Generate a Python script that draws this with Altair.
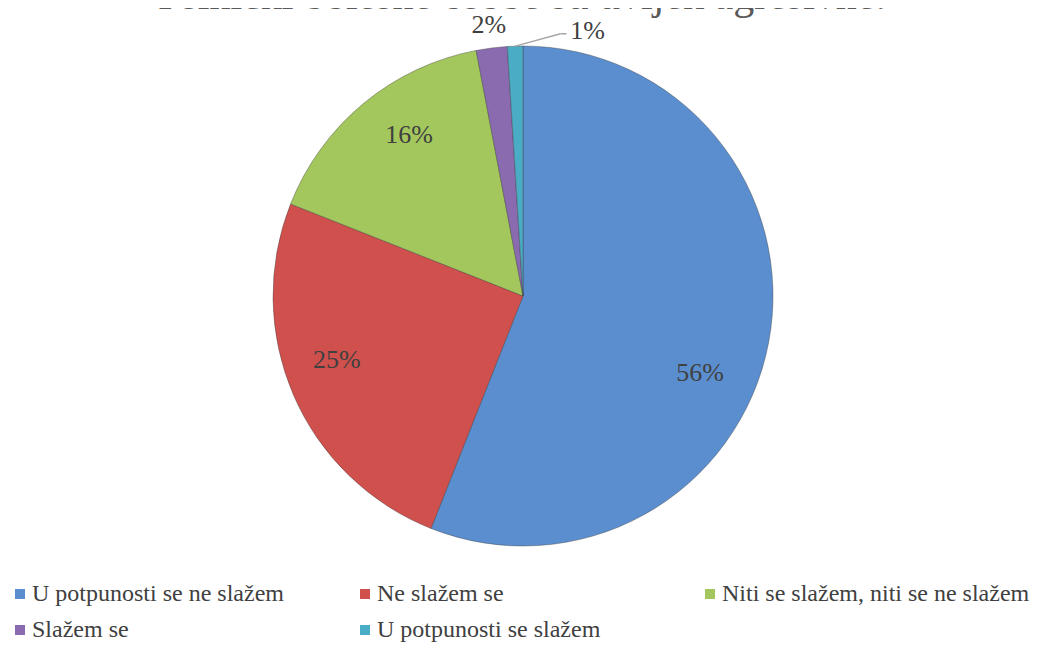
import altair as alt
import pandas as pd

title_text = "Psihički bolesne osobe su uvijek agresivne."
categories = [
    "U potpunosti se ne slažem",
    "Ne slažem se",
    "Niti se slažem, niti se ne slažem",
    "Slažem se",
    "U potpunosti se slažem",
]
values = [56, 25, 16, 2, 1]
colors = ["#5B8ECF", "#D0504D", "#A3C75C", "#8A6BB0", "#4BACC6"]

df = pd.DataFrame({"cat": categories, "val": values, "idx": list(range(len(values)))})

CX, CY, R = 515, 288, 250
FONT = "Liberation Serif"

base = alt.Chart(df).transform_joinaggregate(
    total="sum(val)"
).transform_window(
    cum="sum(val)", sort=[alt.SortField("idx")]
).transform_calculate(
    mid="2*PI*((datum.cum - datum.val/2)/datum.total)",
    shift="datum.val <= 1 ? 0.27 : (datum.val > 50 ? 0.22 : (datum.val >= 5 ? 0.075 : 0))",
    lr="datum.val < 5 ? 273 : (datum.val > 50 ? 193 : 197)",
).transform_calculate(
    la="datum.mid + datum.shift",
).transform_calculate(
    lx=f"{CX} + datum.lr*sin(datum.la)",
    ly=f"{CY} - datum.lr*cos(datum.la)",
    ex=f"{CX} + {R}*sin(datum.mid)",
    ey=f"{CY} - {R}*cos(datum.mid)",
    label="datum.val + '%'",
)

pie = alt.Chart(df).mark_arc(outerRadius=R, stroke="#3a3a3a", strokeWidth=0.4).encode(
    theta=alt.Theta("val:Q", stack=True),
    order=alt.Order("idx:Q"),
    color=alt.Color(
        "cat:N",
        scale=alt.Scale(domain=categories, range=colors),
        sort=categories,
        legend=alt.Legend(
            title=None,
            orient="none",
            direction="horizontal",
            legendX=0,
            legendY=574,
            columns=3,
            gridAlign="all",
            columnPadding=13,
            rowPadding=12,
            symbolType="square",
            symbolSize=100,
            symbolStrokeWidth=0,
            labelFont=FONT,
            labelFontSize=24,
            labelColor="#404040",
            labelLimit=500,
            labelOffset=0,
            padding=0,
        ),
    ),
    x=alt.value(CX),
    y=alt.value(CY),
)

labels = base.mark_text(font=FONT, fontSize=26, color="#404040", align="center", baseline="middle").encode(
    x=alt.X("lx:Q", scale=None),
    y=alt.Y("ly:Q", scale=None),
    text="label:N",
)

small = base.transform_filter("datum.val <= 1")
leader = small.transform_calculate(
    x2="datum.lx - 27", y2="datum.ly + 3"
).mark_rule(color="#A6A6A6", strokeWidth=1.5).encode(
    x=alt.X("ex:Q", scale=None),
    y=alt.Y("ey:Q", scale=None),
    x2="x2:Q",
    y2="y2:Q",
)
leader_h = small.transform_calculate(
    xa="datum.lx - 27", xb="datum.lx - 21", yy="datum.ly + 3"
).mark_rule(color="#A6A6A6", strokeWidth=1.5).encode(
    x=alt.X("xa:Q", scale=None),
    x2="xb:Q",
    y=alt.Y("yy:Q", scale=None),
)

title = alt.Chart(pd.DataFrame({"t": [title_text]})).mark_text(
    font=FONT, fontSize=42, color="#595959", align="center", baseline="alphabetic"
).encode(text="t:N", x=alt.value(514), y=alt.value(1))

chart = alt.layer(pie, leader, leader_h, labels, title).properties(
    width=1032, height=636, autosize=alt.AutoSizeParams(type="none"), padding=0
).configure_view(stroke=None).configure_legend(
    labelFont=FONT, labelFontSize=24, labelColor="#404040"
)

chart.save("out.html", embed_options={"renderer": "svg", "actions": False})
